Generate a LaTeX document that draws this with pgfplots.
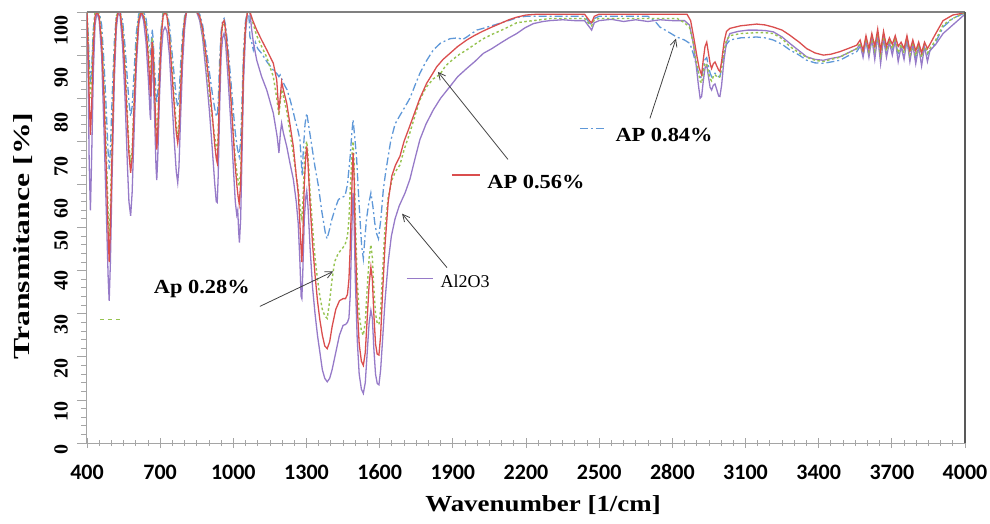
\documentclass[border=0pt]{standalone}
\usepackage{fontspec}
\setmainfont{Liberation Serif}
\newfontfamily\carlito{Carlito}
\usepackage{graphicx}
\usepackage{pgfplots}
\pgfplotsset{compat=1.18}
\usetikzlibrary{arrows.meta}
\definecolor{cpurple}{RGB}{150,122,200}
\definecolor{cred}{RGB}{218,78,78}
\definecolor{cgreen}{RGB}{150,195,80}
\definecolor{cblue}{RGB}{95,152,216}
\definecolor{axgray}{RGB}{165,165,165}
\tikzset{
  sblue/.style={cblue, line width=1.3pt, dash pattern=on 8pt off 3pt on 2pt off 3pt},
  sgreen/.style={cgreen, line width=1.4pt, dash pattern=on 2.5pt off 2.5pt},
  sred/.style={cred, line width=1.3pt},
  spurple/.style={cpurple, line width=1.3pt},
  annarrow/.style={-{Straight Barb[length=7pt,width=7pt]}, black!75, line width=0.8pt},
  ytl/.style={xshift=-26pt, rotate=90, font=\bfseries\fontsize{20}{22}\selectfont, inner sep=0pt},
}
\newcommand\annfont{\bfseries\fontsize{20}{22}\selectfont}
\begin{document}
\begin{tikzpicture}
\useasboundingbox (-87pt,-80pt) rectangle (903pt,443pt);
\begin{axis}[
  at={(0pt,0pt)}, anchor=south west,
  scale only axis, width=878pt, height=431pt,
  xmin=400, xmax=4000, ymin=0, ymax=100,
  axis x line*=bottom, axis y line*=left,
  axis line style={axgray, line width=1pt},
  every outer x axis line/.append style={-},
  every outer y axis line/.append style={-},
  every inner x axis line/.append style={-},
  every inner y axis line/.append style={-},
  xtick={400,700,...,4000}, minor x tick num=5,
  ytick={0,10,...,100}, minor y tick num=4, yticklabels={},
  x tick style={axgray, line width=0.8pt},
  y tick style={axgray, line width=0.8pt},
  xtick align=center, ytick align=outside,
  major tick length=10pt, minor tick length=6pt,
  /pgf/number format/1000 sep={},
  /pgf/number format/assume math mode=true,
  x tick label style={font=\carlito\bfseries\fontsize{22}{24}\selectfont, text=black, anchor=base, yshift=-31pt, inner sep=0pt},
  clip mode=individual,
]
% AP 0.84%
\addplot[sblue] coordinates {
(400,100)(404,96)(409,89)(414,83)(419,87)(426,96)(433,100)(441,100)(450,100)(460,97)(470,88)(480,76)(487,67)(491,63.5)(496,68)(503,80)(512,93)(520,99)(528,100)(536,100)(546,98)(556,92)(566,84)(572,79)(579,75.8)(585,78)(593,86)(602,95)(612,99.5)(622,100)(632,100)(642,98.5)(652,94)(659,91)(661,90)(664,93)(667,96)(671,94)(677,87)(683,81)(686,78.8)(690,81)(697,89)(704,96)(712,100)(720,100)(728,100)(738,97)(748,91)(758,85)(766,80)(772,78)(777,80)(784,88)(792,95)(800,99)(808,100)(850,100)(862,99.5)(874,97)(888,92)(902,86)(914,81)(924,77.5)(930,76)(934,75.8)(938,79)(944,89)(950,95.5)(956,98)(962,98.5)(968,97)(978,92)(990,84)(1000,77)(1008,72)(1016,68.5)(1024,66.5)(1030,70)(1036,80)(1042,91)(1050,98)(1058,100)(1064,99)(1068,94.2)(1075,93)(1082,91.2)(1090,93)(1100,91.5)(1116,90.4)(1137,88.5)(1164,86.5)(1180,85.6)(1187,85)(1192,85.4)(1198,84.5)(1210,83)(1220,82)(1233,79.6)(1245,77)(1253,75)(1263,73)(1273,70.4)(1278,66)(1282,62)(1287,68)(1294,74)(1301,76.5)(1308,74)(1322,68.8)(1335,64)(1349,59.6)(1362,54)(1377,48.8)(1384,47.4)(1392,49)(1404,51.9)(1418,54.5)(1431,56.5)(1445,57)(1458,57.3)(1468,60)(1479,66.5)(1486,72)(1491,75)(1496,72)(1505,66.5)(1515,56)(1526,45.8)(1533,42.8)(1540,48)(1546,52)(1555,55.5)(1564,58)(1572,55)(1580,51)(1588,48.5)(1595,47.4)(1605,52)(1615,58.8)(1625,63)(1645,70)(1663,74)(1683,76)(1704,78)(1724,80)(1745,83)(1765,85.8)(1790,88.5)(1820,91.2)(1850,92.8)(1888,93.8)(1920,94)(1940,93.6)(1957,94.2)(1998,95.8)(2030,96.3)(2065,96.9)(2100,97.5)(2134,98.1)(2170,98.8)(2200,99)(2440,99)(2460,97.5)(2469,97)(2480,98.5)(2500,99)(2700,99)(2730,97.8)(2749,96.5)(2780,95.5)(2818,94.2)(2850,93.5)(2872,92.7)(2885,90.5)(2897,88)(2907,86)(2914,85)(2920,84.6)(2927,87)(2934,89)(2941,89.4)(2948,87.5)(2955,85.8)(2961,85)(2968,85.5)(2975,85.8)(2982,85.3)(2990,85)(2995,85)(3002,87)(3012,90.5)(3022,92.5)(3036,93.5)(3080,94)(3146,94.2)(3180,94)(3214,93.5)(3250,92.5)(3282,91.2)(3320,90)(3351,88.8)(3385,88.2)(3419,88.1)(3450,88.4)(3487,88.8)(3520,89.8)(3556,90.8)(3570,92)(3582,90)(3594,93)(3606,90.2)(3618,93.5)(3630,90.5)(3642,94)(3654,89.5)(3666,94)(3678,90.5)(3690,93)(3702,91)(3714,93.5)(3726,90)(3738,92)(3750,90)(3762,93.5)(3774,89.8)(3786,92.5)(3798,89.5)(3810,92.2)(3822,89.5)(3834,92)(3846,90.2)(3856,91)(3880,93)(3910,96.5)(3950,98.5)(3980,99.3)(4000,99.8)
};
% Al2O3
\addplot[spurple] coordinates {
(400,100)(404,88)(409,65)(414,54)(419,66)(426,86)(433,97)(441,100)(450,98)(460,90)(470,72)(480,52)(487,38)(491,33)(496,42)(503,62)(512,84)(520,96)(528,100)(536,99)(546,92)(556,80)(566,64)(572,56)(579,52.7)(585,58)(593,72)(602,87)(612,97)(622,100)(632,98)(642,93)(652,84)(659,76)(661,75)(664,84)(667,90)(671,86)(677,76)(683,64)(686,61)(690,66)(697,80)(704,90)(712,95.5)(720,96.5)(728,95.5)(738,90)(748,80)(758,70)(766,63)(772,60.4)(777,64)(784,76)(792,88)(800,96)(808,100)(850,100)(862,98)(874,94)(888,86)(902,77)(914,68)(924,60)(930,56)(934,55.8)(938,62)(944,78)(950,90)(956,94)(962,95)(968,93)(978,85)(990,74)(1000,64)(1008,56)(1014,53)(1018,54)(1022,49)(1025,46.5)(1030,52)(1036,68)(1042,84)(1050,95)(1058,100)(1068,100)(1075,96)(1082,93)(1096,88.8)(1116,85)(1137,81.9)(1164,76.5)(1180,71)(1187,67.3)(1193,72)(1198,74.2)(1205,72)(1219,68.8)(1232,65)(1246,61.2)(1258,56)(1266,51)(1273,42)(1278,34)(1281,33.5)(1285,40)(1291,52)(1297,57)(1301,58.5)(1306,55)(1315,45)(1325,36)(1335,30)(1345,25)(1355,21)(1365,17)(1375,15)(1385,14.2)(1395,15)(1405,17)(1420,21)(1435,25)(1450,27.3)(1460,27.5)(1468,28)(1474,29)(1479,34)(1484,45)(1488,54)(1491,58)(1495,52)(1500,38)(1508,24)(1516,16)(1525,12.5)(1533,11.5)(1541,14)(1550,22)(1557,28)(1564,30.8)(1570,29)(1576,22)(1583,16)(1590,13.8)(1597,13.5)(1604,17)(1612,24)(1622,33)(1635,42)(1648,48)(1663,52)(1680,55)(1704,58)(1724,61.2)(1745,66)(1765,70.4)(1790,74)(1820,77.3)(1850,80)(1888,82.7)(1920,85)(1957,86.9)(1990,88.5)(2025,90.4)(2060,91.5)(2093,92.7)(2130,94)(2162,95)(2195,96.3)(2230,97.3)(2270,97.8)(2298,98)(2350,98.2)(2400,98)(2440,98)(2460,96.5)(2469,95.8)(2480,97.5)(2500,98)(2550,98.3)(2600,97.8)(2650,98.2)(2700,97.8)(2750,98.2)(2800,98)(2850,98)(2870,97)(2885,93)(2897,88)(2907,83)(2914,80)(2920,80.4)(2927,84)(2934,87)(2941,87.7)(2948,85)(2955,82.5)(2961,81.9)(2968,83)(2975,83.3)(2982,82)(2990,80.5)(2995,80.4)(3002,83)(3012,89)(3022,93)(3036,95)(3070,95.5)(3110,95.8)(3146,95.8)(3180,95.7)(3214,95.4)(3250,94.2)(3282,92.7)(3320,91)(3351,89.6)(3385,89)(3419,88.8)(3450,89.2)(3487,89.6)(3520,90.5)(3556,91.5)(3570,92.5)(3582,89.5)(3594,93.5)(3606,89.5)(3618,94)(3630,89)(3642,94.5)(3654,88)(3666,94)(3678,89.5)(3690,93)(3702,90)(3714,93.5)(3726,88.5)(3738,92)(3750,89)(3762,93.5)(3774,88.5)(3786,92.5)(3798,88)(3810,92)(3822,87.5)(3834,92)(3846,88.5)(3856,91)(3880,92.5)(3910,95)(3950,97)(3980,98.5)(4000,99.5)
};
% Ap 0.28%
\addplot[sgreen] coordinates {
(400,100)(404,95)(409,86)(414,80)(419,85)(426,95)(433,100)(441,100)(450,99.5)(460,94)(470,83)(480,66)(487,53)(491,48)(496,55)(503,71)(512,90)(520,99)(528,100)(536,100)(546,96)(556,88)(566,76)(572,69)(579,65)(585,68)(593,80)(602,92)(612,99)(622,100)(632,99.5)(642,97)(652,91)(659,86)(661,85)(664,90)(667,94)(671,92)(677,84)(683,74)(686,70.5)(690,74)(697,86)(704,95)(712,99.5)(720,100)(728,99.5)(738,95)(748,88)(758,80)(766,74)(772,71)(777,74)(784,84)(792,93)(800,98.5)(808,100)(850,100)(862,99)(874,95)(888,89)(902,81)(914,75)(924,71)(930,68.5)(934,68)(938,72)(944,85)(950,94)(956,97)(962,97.5)(968,95.5)(978,89)(990,80)(1000,72)(1008,66)(1016,62)(1024,59.6)(1030,63)(1036,76)(1042,89)(1050,97)(1058,100)(1068,100)(1080,97.5)(1096,94.5)(1116,92)(1137,89.5)(1164,85)(1178,80)(1187,76)(1192,79)(1198,82)(1205,80.5)(1219,77)(1232,72)(1246,67)(1258,62)(1266,59)(1272,56)(1277,53)(1281,52)(1285,56)(1291,64)(1297,69)(1301,70)(1306,67)(1315,58)(1325,50)(1335,43)(1345,38)(1355,34)(1365,31)(1375,29.5)(1385,28.9)(1395,33)(1405,38)(1415,42)(1430,44)(1445,45)(1458,46)(1468,48)(1474,52)(1479,58)(1484,64)(1488,68)(1491,70)(1495,65)(1500,53)(1508,38)(1516,30)(1525,26)(1533,25)(1541,28)(1550,37)(1557,43)(1564,46)(1570,43)(1576,36)(1583,30)(1590,27.8)(1597,27.5)(1604,31)(1612,40)(1622,50)(1635,57)(1650,61)(1665,63)(1683,64.5)(1700,68)(1724,72)(1745,76)(1765,79.6)(1790,82.5)(1820,84.5)(1847,85.5)(1870,87.5)(1900,89)(1930,90.3)(1957,91.2)(1990,92.5)(2025,93.8)(2060,94.8)(2093,95.6)(2130,96.6)(2162,97.5)(2200,97.8)(2230,98)(2300,98.5)(2440,98.5)(2460,97.2)(2469,96.8)(2480,98.2)(2500,98.5)(2820,98.5)(2850,97.5)(2870,96.5)(2885,93)(2897,89)(2907,86)(2914,84)(2920,83.5)(2927,86)(2934,88)(2941,88)(2948,86)(2955,84.5)(2961,84)(2968,85)(2975,85.5)(2982,85)(2990,84.8)(2995,85)(3002,87)(3012,91)(3022,93.5)(3036,94.5)(3080,95)(3146,95.2)(3180,95.2)(3214,95)(3250,93.8)(3282,92)(3320,90.5)(3351,89.5)(3385,88.8)(3419,88.5)(3450,89)(3487,89.5)(3520,90.5)(3556,91.5)(3570,92.8)(3582,90.5)(3594,93.8)(3606,90.8)(3618,94.2)(3630,91)(3642,95)(3654,90)(3666,94.8)(3678,91)(3690,93.5)(3702,91.5)(3714,94)(3726,90.5)(3738,92.5)(3750,90.5)(3762,94)(3774,90)(3786,93)(3798,89.8)(3810,92.5)(3822,89.5)(3834,92.5)(3846,90.5)(3856,91.5)(3880,93.5)(3910,97)(3950,98.5)(3980,99.3)(4000,99.8)
};
% AP 0.56%
\addplot[sred] coordinates {
(400,100)(404,92)(409,80)(414,71.5)(419,78)(426,92)(433,99)(441,100)(450,99)(460,93)(470,80)(480,62)(487,48)(491,42)(496,50)(503,68)(512,88)(520,98)(528,100)(536,100)(546,95)(556,86)(566,74)(572,67)(579,62.7)(585,66)(593,78)(602,90)(612,98)(622,100)(632,99)(642,96)(652,89)(659,82)(661,80.4)(664,88)(667,93)(671,91)(677,82)(683,72)(686,68.1)(690,72)(697,84)(704,94)(712,99)(720,100)(728,99)(738,94)(748,86)(758,78)(766,72)(772,69.6)(777,72)(784,82)(792,92)(800,98)(808,100)(850,100)(862,99)(874,96)(888,90)(902,83)(914,76)(924,69)(930,66)(934,65)(938,70)(944,84)(950,94)(956,97.5)(962,98)(968,96)(978,90)(990,80)(1000,71)(1008,64)(1016,59)(1020,57)(1024,55.5)(1030,60)(1036,74)(1042,88)(1050,97)(1058,100)(1068,100)(1080,98)(1096,95.8)(1116,93.5)(1137,91.2)(1164,88.1)(1178,84.2)(1184,79)(1187,77.4)(1192,80)(1198,83.8)(1205,82)(1219,78.8)(1232,74)(1246,68.8)(1258,62)(1266,58)(1272,52)(1277,46)(1281,42)(1285,48)(1291,60)(1297,66.5)(1301,68.8)(1306,65)(1315,55)(1325,46)(1335,39)(1345,33)(1355,28.5)(1365,25)(1375,22.5)(1385,21.9)(1395,23.5)(1405,27)(1420,31)(1435,33)(1450,33.5)(1460,33.5)(1468,34.5)(1474,38)(1479,45)(1484,55)(1488,63)(1491,67.3)(1495,62)(1500,48)(1508,32)(1516,23)(1525,19)(1533,18)(1541,21)(1550,30)(1557,37)(1564,40.8)(1570,38)(1576,30)(1583,23)(1590,20.6)(1597,20.4)(1604,25)(1612,35)(1622,46)(1635,56)(1650,62)(1665,64.5)(1683,66.5)(1700,70)(1720,73)(1738,75.8)(1765,80)(1793,83.5)(1815,85.5)(1834,87.3)(1860,89)(1888,90.4)(1920,92)(1957,93.5)(1990,94.6)(2025,95.6)(2060,96.5)(2093,97.3)(2130,98.2)(2162,98.8)(2200,99.3)(2250,99.5)(2440,99.5)(2460,98)(2469,97.5)(2480,99)(2500,99.5)(2860,99.5)(2875,98)(2888,94)(2900,90)(2910,87)(2920,85.4)(2927,89)(2934,92)(2941,93)(2948,90.5)(2955,88)(2961,86.9)(2968,88)(2975,88.4)(2982,87.5)(2990,86.5)(2995,86.2)(3002,88.5)(3012,93)(3022,95.5)(3036,96.2)(3080,96.8)(3146,97.2)(3180,97)(3214,96.5)(3250,95.8)(3282,94.6)(3320,93)(3351,91.5)(3385,90.5)(3419,90)(3450,90.2)(3487,90.8)(3520,91.5)(3556,92.3)(3570,93.5)(3582,91)(3594,94.5)(3606,91.5)(3618,95)(3630,92)(3642,96)(3654,91)(3666,95.5)(3678,92)(3690,94)(3702,92.5)(3714,94.5)(3726,92)(3738,93)(3750,91.5)(3762,94.5)(3774,91)(3786,93.5)(3798,91)(3810,93)(3822,90.5)(3834,93)(3846,91.5)(3856,92.5)(3880,95)(3910,98)(3950,99.3)(3980,99.6)(4000,100)
};
% frame top and right
\draw[black!50, line width=1.8pt] (rel axis cs:0,1) -- (rel axis cs:1,1);
\draw[black!65, line width=1.1pt] (rel axis cs:1,0) -- (rel axis cs:1,1);
% y tick labels (as placed in the original)
\node[ytl] at (axis cs:400,-1.5) {0};
\node[ytl] at (axis cs:400,7.2) {10};
\node[ytl] at (axis cs:400,17.4) {20};
\node[ytl] at (axis cs:400,27.5) {30};
\node[ytl] at (axis cs:400,37.6) {40};
\node[ytl] at (axis cs:400,47.1) {50};
\node[ytl] at (axis cs:400,54.3) {60};
\node[ytl] at (axis cs:400,64.2) {70};
\node[ytl] at (axis cs:400,74.4) {80};
\node[ytl] at (axis cs:400,84.8) {90};
\node[ytl] at (axis cs:400,95.6) {100};
% axis titles
\node[xshift=-64pt, rotate=90, font=\bfseries\fontsize{23}{25}\selectfont, inner sep=0pt] at (axis cs:400,48) {\scalebox{1.38}[1]{Transmitance [\%]}};
\node[yshift=-62pt, font=\bfseries\fontsize{23}{25}\selectfont, inner sep=0pt] at (axis cs:2270,0) {\scalebox{1.17}[1]{Wavenumber [1/cm]}};
% legend samples and labels
\draw[cgreen, line width=1.4pt, dash pattern=on 4pt off 4pt] (axis cs:453,28.7) -- (axis cs:535,28.7);
\draw[sred] (axis cs:1896,62.2) -- (axis cs:2011,62.2);
\draw[spurple] (axis cs:1712,38.2) -- (axis cs:1819,38.2);
\draw[sblue] (axis cs:2421,73) -- (axis cs:2524,73);
\node[font=\annfont, inner sep=0pt] at (axis cs:871,35.8) {\scalebox{1.12}[1]{Ap 0.28\%}};
\node[font=\annfont, inner sep=0pt] at (axis cs:2241,60.6) {\scalebox{1.12}[1]{AP 0.56\%}};
\node[font=\annfont, inner sep=0pt] at (axis cs:2766,71.4) {\scalebox{1.12}[1]{AP 0.84\%}};
\node[font=\fontsize{18}{20}\selectfont, inner sep=0pt] at (axis cs:1950,37.5) {Al2O3};
% arrows
\draw[annarrow] (axis cs:1109,31.7) -- (axis cs:1409,39.8);
\draw[annarrow] (axis cs:2126,65.8) -- (axis cs:1839,86.1);
\draw[annarrow] (axis cs:1876,40.7) -- (axis cs:1692,53.2);
\draw[annarrow] (axis cs:2708,75.3) -- (axis cs:2815,93.8);
\end{axis}
\end{tikzpicture}
\end{document}
